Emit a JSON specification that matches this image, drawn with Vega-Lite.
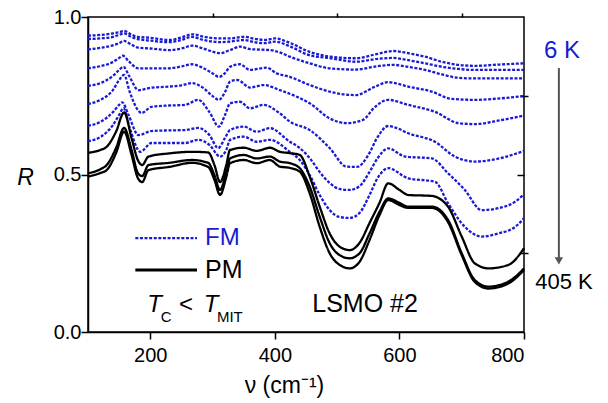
{
"$schema": "https://vega.github.io/schema/vega-lite/v6.json",
"width": 436, "height": 315,
"autosize": {"type": "none"},
"padding": {"left": 88, "top": 17, "right": 84, "bottom": 71},
"background": "white",
"config": {
  "view": {"stroke": "#000", "strokeWidth": 1.5},
  "font": "Liberation Sans",
  "axis": {"grid": false, "domainColor": "#000", "tickColor": "#000", "labelColor": "#000", "titleColor": "#000",
           "domainWidth": 1.5, "tickWidth": 1.5, "labelFont": "Liberation Sans", "titleFont": "Liberation Sans",
           "labelFontSize": 20, "titleFontWeight": "normal"}
},
"datasets": {
"curves": [
{"s":"FM1","t":"FM","x":100,"y":0.941},{"s":"FM1","t":"FM","x":120,"y":0.943},{"s":"FM1","t":"FM","x":140,"y":0.948},{"s":"FM1","t":"FM","x":150,"y":0.952},{"s":"FM1","t":"FM","x":158,"y":0.956},{"s":"FM1","t":"FM","x":168,"y":0.946},{"s":"FM1","t":"FM","x":180,"y":0.937},{"s":"FM1","t":"FM","x":200,"y":0.934},{"s":"FM1","t":"FM","x":230,"y":0.927},{"s":"FM1","t":"FM","x":250,"y":0.935},{"s":"FM1","t":"FM","x":267,"y":0.945},{"s":"FM1","t":"FM","x":285,"y":0.938},{"s":"FM1","t":"FM","x":300,"y":0.933},{"s":"FM1","t":"FM","x":312,"y":0.932},{"s":"FM1","t":"FM","x":328,"y":0.932},{"s":"FM1","t":"FM","x":350,"y":0.937},{"s":"FM1","t":"FM","x":370,"y":0.930},{"s":"FM1","t":"FM","x":385,"y":0.927},{"s":"FM1","t":"FM","x":400,"y":0.932},{"s":"FM1","t":"FM","x":425,"y":0.917},{"s":"FM1","t":"FM","x":455,"y":0.890},{"s":"FM1","t":"FM","x":490,"y":0.874},{"s":"FM1","t":"FM","x":530,"y":0.869},{"s":"FM1","t":"FM","x":565,"y":0.883},{"s":"FM1","t":"FM","x":590,"y":0.892},{"s":"FM1","t":"FM","x":614,"y":0.885},{"s":"FM1","t":"FM","x":641,"y":0.874},{"s":"FM1","t":"FM","x":668,"y":0.858},{"s":"FM1","t":"FM","x":695,"y":0.848},{"s":"FM1","t":"FM","x":721,"y":0.845},{"s":"FM1","t":"FM","x":760,"y":0.849},{"s":"FM1","t":"FM","x":800,"y":0.853},
{"s":"FM2","t":"FM","x":100,"y":0.930},{"s":"FM2","t":"FM","x":120,"y":0.932},{"s":"FM2","t":"FM","x":140,"y":0.937},{"s":"FM2","t":"FM","x":150,"y":0.943},{"s":"FM2","t":"FM","x":158,"y":0.948},{"s":"FM2","t":"FM","x":168,"y":0.938},{"s":"FM2","t":"FM","x":180,"y":0.930},{"s":"FM2","t":"FM","x":200,"y":0.925},{"s":"FM2","t":"FM","x":230,"y":0.920},{"s":"FM2","t":"FM","x":250,"y":0.927},{"s":"FM2","t":"FM","x":267,"y":0.937},{"s":"FM2","t":"FM","x":285,"y":0.927},{"s":"FM2","t":"FM","x":300,"y":0.922},{"s":"FM2","t":"FM","x":312,"y":0.920},{"s":"FM2","t":"FM","x":328,"y":0.922},{"s":"FM2","t":"FM","x":350,"y":0.927},{"s":"FM2","t":"FM","x":370,"y":0.919},{"s":"FM2","t":"FM","x":385,"y":0.917},{"s":"FM2","t":"FM","x":400,"y":0.922},{"s":"FM2","t":"FM","x":425,"y":0.906},{"s":"FM2","t":"FM","x":455,"y":0.879},{"s":"FM2","t":"FM","x":490,"y":0.869},{"s":"FM2","t":"FM","x":530,"y":0.858},{"s":"FM2","t":"FM","x":565,"y":0.867},{"s":"FM2","t":"FM","x":590,"y":0.870},{"s":"FM2","t":"FM","x":614,"y":0.863},{"s":"FM2","t":"FM","x":641,"y":0.853},{"s":"FM2","t":"FM","x":668,"y":0.842},{"s":"FM2","t":"FM","x":695,"y":0.835},{"s":"FM2","t":"FM","x":721,"y":0.832},{"s":"FM2","t":"FM","x":760,"y":0.832},{"s":"FM2","t":"FM","x":800,"y":0.832},
{"s":"FM3","t":"FM","x":100,"y":0.897},{"s":"FM3","t":"FM","x":120,"y":0.902},{"s":"FM3","t":"FM","x":140,"y":0.910},{"s":"FM3","t":"FM","x":150,"y":0.917},{"s":"FM3","t":"FM","x":158,"y":0.924},{"s":"FM3","t":"FM","x":168,"y":0.914},{"s":"FM3","t":"FM","x":180,"y":0.903},{"s":"FM3","t":"FM","x":200,"y":0.900},{"s":"FM3","t":"FM","x":230,"y":0.895},{"s":"FM3","t":"FM","x":250,"y":0.900},{"s":"FM3","t":"FM","x":267,"y":0.909},{"s":"FM3","t":"FM","x":285,"y":0.900},{"s":"FM3","t":"FM","x":300,"y":0.890},{"s":"FM3","t":"FM","x":312,"y":0.885},{"s":"FM3","t":"FM","x":328,"y":0.895},{"s":"FM3","t":"FM","x":344,"y":0.906},{"s":"FM3","t":"FM","x":360,"y":0.898},{"s":"FM3","t":"FM","x":392,"y":0.895},{"s":"FM3","t":"FM","x":410,"y":0.886},{"s":"FM3","t":"FM","x":424,"y":0.874},{"s":"FM3","t":"FM","x":456,"y":0.853},{"s":"FM3","t":"FM","x":488,"y":0.837},{"s":"FM3","t":"FM","x":530,"y":0.833},{"s":"FM3","t":"FM","x":565,"y":0.844},{"s":"FM3","t":"FM","x":590,"y":0.848},{"s":"FM3","t":"FM","x":614,"y":0.842},{"s":"FM3","t":"FM","x":641,"y":0.832},{"s":"FM3","t":"FM","x":668,"y":0.818},{"s":"FM3","t":"FM","x":695,"y":0.807},{"s":"FM3","t":"FM","x":721,"y":0.805},{"s":"FM3","t":"FM","x":760,"y":0.805},{"s":"FM3","t":"FM","x":800,"y":0.805},
{"s":"FM4","t":"FM","x":100,"y":0.837},{"s":"FM4","t":"FM","x":120,"y":0.844},{"s":"FM4","t":"FM","x":140,"y":0.857},{"s":"FM4","t":"FM","x":150,"y":0.870},{"s":"FM4","t":"FM","x":156,"y":0.877},{"s":"FM4","t":"FM","x":165,"y":0.860},{"s":"FM4","t":"FM","x":181,"y":0.837},{"s":"FM4","t":"FM","x":200,"y":0.837},{"s":"FM4","t":"FM","x":229,"y":0.837},{"s":"FM4","t":"FM","x":250,"y":0.843},{"s":"FM4","t":"FM","x":267,"y":0.850},{"s":"FM4","t":"FM","x":285,"y":0.838},{"s":"FM4","t":"FM","x":300,"y":0.821},{"s":"FM4","t":"FM","x":310,"y":0.810},{"s":"FM4","t":"FM","x":320,"y":0.822},{"s":"FM4","t":"FM","x":328,"y":0.842},{"s":"FM4","t":"FM","x":344,"y":0.850},{"s":"FM4","t":"FM","x":360,"y":0.832},{"s":"FM4","t":"FM","x":387,"y":0.839},{"s":"FM4","t":"FM","x":403,"y":0.821},{"s":"FM4","t":"FM","x":424,"y":0.810},{"s":"FM4","t":"FM","x":456,"y":0.784},{"s":"FM4","t":"FM","x":488,"y":0.763},{"s":"FM4","t":"FM","x":530,"y":0.752},{"s":"FM4","t":"FM","x":561,"y":0.779},{"s":"FM4","t":"FM","x":582,"y":0.793},{"s":"FM4","t":"FM","x":614,"y":0.779},{"s":"FM4","t":"FM","x":652,"y":0.763},{"s":"FM4","t":"FM","x":684,"y":0.740},{"s":"FM4","t":"FM","x":721,"y":0.737},{"s":"FM4","t":"FM","x":764,"y":0.742},{"s":"FM4","t":"FM","x":800,"y":0.749},
{"s":"FM5","t":"FM","x":100,"y":0.782},{"s":"FM5","t":"FM","x":120,"y":0.790},{"s":"FM5","t":"FM","x":140,"y":0.813},{"s":"FM5","t":"FM","x":150,"y":0.832},{"s":"FM5","t":"FM","x":157,"y":0.842},{"s":"FM5","t":"FM","x":166,"y":0.813},{"s":"FM5","t":"FM","x":181,"y":0.768},{"s":"FM5","t":"FM","x":200,"y":0.775},{"s":"FM5","t":"FM","x":229,"y":0.779},{"s":"FM5","t":"FM","x":250,"y":0.783},{"s":"FM5","t":"FM","x":267,"y":0.790},{"s":"FM5","t":"FM","x":285,"y":0.775},{"s":"FM5","t":"FM","x":300,"y":0.749},{"s":"FM5","t":"FM","x":310,"y":0.737},{"s":"FM5","t":"FM","x":320,"y":0.762},{"s":"FM5","t":"FM","x":328,"y":0.795},{"s":"FM5","t":"FM","x":340,"y":0.800},{"s":"FM5","t":"FM","x":360,"y":0.776},{"s":"FM5","t":"FM","x":382,"y":0.784},{"s":"FM5","t":"FM","x":408,"y":0.768},{"s":"FM5","t":"FM","x":435,"y":0.747},{"s":"FM5","t":"FM","x":456,"y":0.726},{"s":"FM5","t":"FM","x":488,"y":0.678},{"s":"FM5","t":"FM","x":515,"y":0.663},{"s":"FM5","t":"FM","x":541,"y":0.673},{"s":"FM5","t":"FM","x":561,"y":0.715},{"s":"FM5","t":"FM","x":582,"y":0.737},{"s":"FM5","t":"FM","x":614,"y":0.721},{"s":"FM5","t":"FM","x":657,"y":0.699},{"s":"FM5","t":"FM","x":695,"y":0.663},{"s":"FM5","t":"FM","x":721,"y":0.660},{"s":"FM5","t":"FM","x":764,"y":0.673},{"s":"FM5","t":"FM","x":800,"y":0.687},
{"s":"FM6","t":"FM","x":100,"y":0.724},{"s":"FM6","t":"FM","x":120,"y":0.737},{"s":"FM6","t":"FM","x":140,"y":0.768},{"s":"FM6","t":"FM","x":150,"y":0.800},{"s":"FM6","t":"FM","x":158,"y":0.816},{"s":"FM6","t":"FM","x":167,"y":0.762},{"s":"FM6","t":"FM","x":180,"y":0.705},{"s":"FM6","t":"FM","x":186,"y":0.695},{"s":"FM6","t":"FM","x":202,"y":0.715},{"s":"FM6","t":"FM","x":230,"y":0.719},{"s":"FM6","t":"FM","x":256,"y":0.721},{"s":"FM6","t":"FM","x":277,"y":0.737},{"s":"FM6","t":"FM","x":295,"y":0.698},{"s":"FM6","t":"FM","x":310,"y":0.652},{"s":"FM6","t":"FM","x":320,"y":0.689},{"s":"FM6","t":"FM","x":328,"y":0.726},{"s":"FM6","t":"FM","x":344,"y":0.731},{"s":"FM6","t":"FM","x":360,"y":0.710},{"s":"FM6","t":"FM","x":382,"y":0.721},{"s":"FM6","t":"FM","x":408,"y":0.694},{"s":"FM6","t":"FM","x":424,"y":0.668},{"s":"FM6","t":"FM","x":456,"y":0.641},{"s":"FM6","t":"FM","x":488,"y":0.584},{"s":"FM6","t":"FM","x":515,"y":0.525},{"s":"FM6","t":"FM","x":532,"y":0.524},{"s":"FM6","t":"FM","x":550,"y":0.562},{"s":"FM6","t":"FM","x":565,"y":0.619},{"s":"FM6","t":"FM","x":582,"y":0.654},{"s":"FM6","t":"FM","x":595,"y":0.648},{"s":"FM6","t":"FM","x":614,"y":0.631},{"s":"FM6","t":"FM","x":657,"y":0.604},{"s":"FM6","t":"FM","x":689,"y":0.557},{"s":"FM6","t":"FM","x":721,"y":0.541},{"s":"FM6","t":"FM","x":760,"y":0.551},{"s":"FM6","t":"FM","x":800,"y":0.575},
{"s":"FM7","t":"FM","x":100,"y":0.655},{"s":"FM7","t":"FM","x":120,"y":0.667},{"s":"FM7","t":"FM","x":140,"y":0.698},{"s":"FM7","t":"FM","x":150,"y":0.721},{"s":"FM7","t":"FM","x":155,"y":0.729},{"s":"FM7","t":"FM","x":165,"y":0.689},{"s":"FM7","t":"FM","x":181,"y":0.625},{"s":"FM7","t":"FM","x":202,"y":0.638},{"s":"FM7","t":"FM","x":230,"y":0.640},{"s":"FM7","t":"FM","x":256,"y":0.641},{"s":"FM7","t":"FM","x":277,"y":0.648},{"s":"FM7","t":"FM","x":295,"y":0.625},{"s":"FM7","t":"FM","x":309,"y":0.584},{"s":"FM7","t":"FM","x":320,"y":0.616},{"s":"FM7","t":"FM","x":328,"y":0.641},{"s":"FM7","t":"FM","x":350,"y":0.652},{"s":"FM7","t":"FM","x":371,"y":0.636},{"s":"FM7","t":"FM","x":392,"y":0.647},{"s":"FM7","t":"FM","x":424,"y":0.604},{"s":"FM7","t":"FM","x":440,"y":0.584},{"s":"FM7","t":"FM","x":456,"y":0.552},{"s":"FM7","t":"FM","x":472,"y":0.508},{"s":"FM7","t":"FM","x":488,"y":0.473},{"s":"FM7","t":"FM","x":504,"y":0.454},{"s":"FM7","t":"FM","x":520,"y":0.451},{"s":"FM7","t":"FM","x":536,"y":0.463},{"s":"FM7","t":"FM","x":552,"y":0.508},{"s":"FM7","t":"FM","x":565,"y":0.552},{"s":"FM7","t":"FM","x":582,"y":0.583},{"s":"FM7","t":"FM","x":609,"y":0.557},{"s":"FM7","t":"FM","x":652,"y":0.551},{"s":"FM7","t":"FM","x":678,"y":0.504},{"s":"FM7","t":"FM","x":705,"y":0.451},{"s":"FM7","t":"FM","x":732,"y":0.387},{"s":"FM7","t":"FM","x":759,"y":0.393},{"s":"FM7","t":"FM","x":786,"y":0.414},{"s":"FM7","t":"FM","x":800,"y":0.437},
{"s":"FM8","t":"FM","x":100,"y":0.606},{"s":"FM8","t":"FM","x":120,"y":0.619},{"s":"FM8","t":"FM","x":140,"y":0.657},{"s":"FM8","t":"FM","x":150,"y":0.689},{"s":"FM8","t":"FM","x":157,"y":0.711},{"s":"FM8","t":"FM","x":167,"y":0.648},{"s":"FM8","t":"FM","x":184,"y":0.572},{"s":"FM8","t":"FM","x":202,"y":0.600},{"s":"FM8","t":"FM","x":230,"y":0.600},{"s":"FM8","t":"FM","x":256,"y":0.600},{"s":"FM8","t":"FM","x":277,"y":0.610},{"s":"FM8","t":"FM","x":295,"y":0.594},{"s":"FM8","t":"FM","x":312,"y":0.557},{"s":"FM8","t":"FM","x":322,"y":0.578},{"s":"FM8","t":"FM","x":328,"y":0.610},{"s":"FM8","t":"FM","x":350,"y":0.620},{"s":"FM8","t":"FM","x":371,"y":0.604},{"s":"FM8","t":"FM","x":392,"y":0.610},{"s":"FM8","t":"FM","x":424,"y":0.572},{"s":"FM8","t":"FM","x":440,"y":0.546},{"s":"FM8","t":"FM","x":456,"y":0.498},{"s":"FM8","t":"FM","x":472,"y":0.435},{"s":"FM8","t":"FM","x":488,"y":0.387},{"s":"FM8","t":"FM","x":504,"y":0.365},{"s":"FM8","t":"FM","x":520,"y":0.362},{"s":"FM8","t":"FM","x":536,"y":0.378},{"s":"FM8","t":"FM","x":552,"y":0.435},{"s":"FM8","t":"FM","x":565,"y":0.489},{"s":"FM8","t":"FM","x":582,"y":0.520},{"s":"FM8","t":"FM","x":614,"y":0.488},{"s":"FM8","t":"FM","x":657,"y":0.477},{"s":"FM8","t":"FM","x":678,"y":0.409},{"s":"FM8","t":"FM","x":705,"y":0.334},{"s":"FM8","t":"FM","x":732,"y":0.303},{"s":"FM8","t":"FM","x":759,"y":0.313},{"s":"FM8","t":"FM","x":786,"y":0.334},{"s":"FM8","t":"FM","x":800,"y":0.361},
{"s":"PM1","t":"PM","x":100,"y":0.569},{"s":"PM1","t":"PM","x":120,"y":0.578},{"s":"PM1","t":"PM","x":130,"y":0.588},{"s":"PM1","t":"PM","x":145,"y":0.636},{"s":"PM1","t":"PM","x":158,"y":0.697},{"s":"PM1","t":"PM","x":170,"y":0.615},{"s":"PM1","t":"PM","x":180,"y":0.546},{"s":"PM1","t":"PM","x":187,"y":0.530},{"s":"PM1","t":"PM","x":197,"y":0.557},{"s":"PM1","t":"PM","x":230,"y":0.567},{"s":"PM1","t":"PM","x":267,"y":0.572},{"s":"PM1","t":"PM","x":293,"y":0.570},{"s":"PM1","t":"PM","x":303,"y":0.530},{"s":"PM1","t":"PM","x":312,"y":0.476},{"s":"PM1","t":"PM","x":322,"y":0.530},{"s":"PM1","t":"PM","x":328,"y":0.578},{"s":"PM1","t":"PM","x":350,"y":0.585},{"s":"PM1","t":"PM","x":371,"y":0.575},{"s":"PM1","t":"PM","x":392,"y":0.585},{"s":"PM1","t":"PM","x":408,"y":0.572},{"s":"PM1","t":"PM","x":424,"y":0.568},{"s":"PM1","t":"PM","x":440,"y":0.562},{"s":"PM1","t":"PM","x":456,"y":0.493},{"s":"PM1","t":"PM","x":472,"y":0.398},{"s":"PM1","t":"PM","x":488,"y":0.313},{"s":"PM1","t":"PM","x":504,"y":0.271},{"s":"PM1","t":"PM","x":520,"y":0.260},{"s":"PM1","t":"PM","x":536,"y":0.283},{"s":"PM1","t":"PM","x":552,"y":0.346},{"s":"PM1","t":"PM","x":568,"y":0.410},{"s":"PM1","t":"PM","x":582,"y":0.472},{"s":"PM1","t":"PM","x":600,"y":0.451},{"s":"PM1","t":"PM","x":614,"y":0.435},{"s":"PM1","t":"PM","x":652,"y":0.432},{"s":"PM1","t":"PM","x":678,"y":0.398},{"s":"PM1","t":"PM","x":700,"y":0.303},{"s":"PM1","t":"PM","x":721,"y":0.218},{"s":"PM1","t":"PM","x":743,"y":0.202},{"s":"PM1","t":"PM","x":775,"y":0.213},{"s":"PM1","t":"PM","x":800,"y":0.266},
{"s":"PM2","t":"PM","x":100,"y":0.504},{"s":"PM2","t":"PM","x":120,"y":0.517},{"s":"PM2","t":"PM","x":130,"y":0.530},{"s":"PM2","t":"PM","x":145,"y":0.584},{"s":"PM2","t":"PM","x":158,"y":0.648},{"s":"PM2","t":"PM","x":170,"y":0.578},{"s":"PM2","t":"PM","x":180,"y":0.505},{"s":"PM2","t":"PM","x":187,"y":0.495},{"s":"PM2","t":"PM","x":197,"y":0.530},{"s":"PM2","t":"PM","x":230,"y":0.537},{"s":"PM2","t":"PM","x":267,"y":0.546},{"s":"PM2","t":"PM","x":293,"y":0.537},{"s":"PM2","t":"PM","x":303,"y":0.498},{"s":"PM2","t":"PM","x":312,"y":0.451},{"s":"PM2","t":"PM","x":322,"y":0.508},{"s":"PM2","t":"PM","x":328,"y":0.551},{"s":"PM2","t":"PM","x":350,"y":0.562},{"s":"PM2","t":"PM","x":371,"y":0.551},{"s":"PM2","t":"PM","x":392,"y":0.557},{"s":"PM2","t":"PM","x":408,"y":0.541},{"s":"PM2","t":"PM","x":424,"y":0.536},{"s":"PM2","t":"PM","x":440,"y":0.520},{"s":"PM2","t":"PM","x":456,"y":0.461},{"s":"PM2","t":"PM","x":472,"y":0.366},{"s":"PM2","t":"PM","x":488,"y":0.282},{"s":"PM2","t":"PM","x":504,"y":0.244},{"s":"PM2","t":"PM","x":520,"y":0.234},{"s":"PM2","t":"PM","x":536,"y":0.250},{"s":"PM2","t":"PM","x":552,"y":0.313},{"s":"PM2","t":"PM","x":568,"y":0.382},{"s":"PM2","t":"PM","x":582,"y":0.424},{"s":"PM2","t":"PM","x":600,"y":0.410},{"s":"PM2","t":"PM","x":614,"y":0.398},{"s":"PM2","t":"PM","x":652,"y":0.398},{"s":"PM2","t":"PM","x":678,"y":0.356},{"s":"PM2","t":"PM","x":700,"y":0.250},{"s":"PM2","t":"PM","x":721,"y":0.165},{"s":"PM2","t":"PM","x":743,"y":0.144},{"s":"PM2","t":"PM","x":775,"y":0.160},{"s":"PM2","t":"PM","x":800,"y":0.202},
{"s":"PM3","t":"PM","x":100,"y":0.493},{"s":"PM3","t":"PM","x":120,"y":0.505},{"s":"PM3","t":"PM","x":130,"y":0.514},{"s":"PM3","t":"PM","x":145,"y":0.568},{"s":"PM3","t":"PM","x":158,"y":0.636},{"s":"PM3","t":"PM","x":170,"y":0.562},{"s":"PM3","t":"PM","x":180,"y":0.489},{"s":"PM3","t":"PM","x":187,"y":0.476},{"s":"PM3","t":"PM","x":197,"y":0.514},{"s":"PM3","t":"PM","x":230,"y":0.524},{"s":"PM3","t":"PM","x":267,"y":0.537},{"s":"PM3","t":"PM","x":293,"y":0.524},{"s":"PM3","t":"PM","x":303,"y":0.483},{"s":"PM3","t":"PM","x":312,"y":0.435},{"s":"PM3","t":"PM","x":322,"y":0.492},{"s":"PM3","t":"PM","x":328,"y":0.536},{"s":"PM3","t":"PM","x":350,"y":0.546},{"s":"PM3","t":"PM","x":371,"y":0.536},{"s":"PM3","t":"PM","x":392,"y":0.546},{"s":"PM3","t":"PM","x":408,"y":0.525},{"s":"PM3","t":"PM","x":424,"y":0.521},{"s":"PM3","t":"PM","x":440,"y":0.509},{"s":"PM3","t":"PM","x":456,"y":0.440},{"s":"PM3","t":"PM","x":472,"y":0.334},{"s":"PM3","t":"PM","x":488,"y":0.250},{"s":"PM3","t":"PM","x":504,"y":0.213},{"s":"PM3","t":"PM","x":520,"y":0.202},{"s":"PM3","t":"PM","x":536,"y":0.223},{"s":"PM3","t":"PM","x":552,"y":0.292},{"s":"PM3","t":"PM","x":568,"y":0.371},{"s":"PM3","t":"PM","x":582,"y":0.419},{"s":"PM3","t":"PM","x":600,"y":0.403},{"s":"PM3","t":"PM","x":614,"y":0.394},{"s":"PM3","t":"PM","x":652,"y":0.394},{"s":"PM3","t":"PM","x":678,"y":0.349},{"s":"PM3","t":"PM","x":700,"y":0.244},{"s":"PM3","t":"PM","x":721,"y":0.159},{"s":"PM3","t":"PM","x":743,"y":0.138},{"s":"PM3","t":"PM","x":775,"y":0.154},{"s":"PM3","t":"PM","x":800,"y":0.197}
]
},
"resolve": {"axis": {"x": "independent", "y": "independent"}},
"layer": [
{
  "data": {"name": "curves"},
  "mark": {"type": "line", "interpolate": "monotone", "strokeWidth": 2.3},
  "encoding": {
    "x": {"field": "x", "type": "quantitative", "scale": {"domain": [100, 800], "nice": false, "zero": false},
          "axis": {"values": [200, 400, 600, 800], "tickSize": 7, "labelPadding": 6.5, "labelFontSize": 20,
                   "title": "ν (cm⁻¹)", "titleFontSize": 23, "titleX": 196, "titleY": 60, "titleAlign": "center", "titleBaseline": "alphabetic"}},
    "y": {"field": "y", "type": "quantitative", "scale": {"domain": [0, 1], "nice": false, "zero": false},
          "axis": {"values": [0, 0.5, 1], "format": ".1f", "tickSize": 7, "labelPadding": 0, "labelFontSize": 20,
                   "title": "R", "titleFontSize": 23, "titleFontStyle": "italic", "titleAngle": 0, "titleX": -63, "titleY": 160,
                   "titleAlign": "center", "titleBaseline": "middle"}},
    "detail": {"field": "s"},
    "color": {"field": "t", "type": "nominal", "scale": {"domain": ["FM", "PM"], "range": ["#1a1ad4", "#000000"]}, "legend": null},
    "strokeDash": {"field": "t", "type": "nominal", "scale": {"domain": ["FM", "PM"], "range": [[3, 1.6], [1, 0]]}, "legend": null}
  }
},
{
  "data": {"name": "curves"},
  "mark": {"type": "point", "opacity": 0},
  "encoding": {
    "x": {"field": "x", "type": "quantitative", "scale": {"domain": [100, 800], "nice": false, "zero": false},
          "axis": {"values": [300, 500, 700], "tickSize": 4, "labels": false, "domain": false, "title": null}},
    "y": {"field": "y", "type": "quantitative", "scale": {"domain": [0, 1], "nice": false, "zero": false},
          "axis": {"values": [0.25, 0.75], "tickSize": 4, "labels": false, "domain": false, "title": null}}
  }
},
{
  "data": {"name": "curves"},
  "mark": {"type": "point", "opacity": 0},
  "encoding": {
    "x": {"field": "x", "type": "quantitative", "scale": {"domain": [100, 800], "nice": false, "zero": false}, "axis": null},
    "y": {"field": "y", "type": "quantitative", "scale": {"domain": [0, 1], "nice": false, "zero": false},
          "axis": {"orient": "right", "values": [0.5], "tickSize": -7, "labels": false, "domain": false, "title": null}}
  }
},
{
  "data": {"name": "curves"},
  "mark": {"type": "point", "opacity": 0},
  "encoding": {
    "x": {"field": "x", "type": "quantitative", "scale": {"domain": [100, 800], "nice": false, "zero": false}, "axis": null},
    "y": {"field": "y", "type": "quantitative", "scale": {"domain": [0, 1], "nice": false, "zero": false},
          "axis": {"orient": "right", "values": [0.25, 0.75], "tickSize": -4, "labels": false, "domain": false, "title": null}}
  }
},
{
  "data": {"values": [{"x": 176, "x2": 275, "y": 0.298}]},
  "mark": {"type": "rule", "color": "#1a1ad4", "strokeWidth": 2.3, "strokeDash": [3, 1.6]},
  "encoding": {
    "x": {"field": "x", "type": "quantitative", "axis": null},
    "x2": {"field": "x2"},
    "y": {"field": "y", "type": "quantitative", "axis": null}
  }
},
{
  "data": {"values": [{"x": 176, "x2": 275, "y": 0.197}]},
  "mark": {"type": "rule", "color": "#000000", "strokeWidth": 3},
  "encoding": {
    "x": {"field": "x", "type": "quantitative", "axis": null},
    "x2": {"field": "x2"},
    "y": {"field": "y", "type": "quantitative", "axis": null}
  }
},
{
  "data": {"values": [{"label": "FM", "x": 288, "y": 0.298}, {"label": "6 K", "x": 832, "y": 0.892}]},
  "mark": {"type": "text", "color": "#1a1ad4", "fontSize": 24, "align": "left", "baseline": "middle", "font": "Liberation Sans"},
  "encoding": {
    "x": {"field": "x", "type": "quantitative", "axis": null},
    "y": {"field": "y", "type": "quantitative", "axis": null},
    "text": {"field": "label"}
  }
},
{
  "data": {"values": [{"label": "PM", "x": 288, "y": 0.197}]},
  "mark": {"type": "text", "color": "#000000", "fontSize": 25, "align": "left", "baseline": "middle", "font": "Liberation Sans"},
  "encoding": {
    "x": {"field": "x", "type": "quantitative", "axis": null},
    "y": {"field": "y", "type": "quantitative", "axis": null},
    "text": {"field": "label"}
  }
},
{
  "data": {"values": [{"label": "LSMO #2", "x": 460, "y": 0.064}]},
  "mark": {"type": "text", "color": "#000000", "fontSize": 25, "align": "left", "baseline": "alphabetic", "font": "Liberation Sans"},
  "encoding": {
    "x": {"field": "x", "type": "quantitative", "axis": null},
    "y": {"field": "y", "type": "quantitative", "axis": null},
    "text": {"field": "label"}
  }
},
{
  "data": {"values": [{"label": "405 K", "x": 818, "y": 0.159}]},
  "mark": {"type": "text", "color": "#000000", "fontSize": 22, "align": "left", "baseline": "middle", "font": "Liberation Sans"},
  "encoding": {
    "x": {"field": "x", "type": "quantitative", "axis": null},
    "y": {"field": "y", "type": "quantitative", "axis": null},
    "text": {"field": "label"}
  }
},
{
  "data": {"values": [{"label": "T", "x": 195, "y": 0.064}, {"label": "T", "x": 286, "y": 0.064}]},
  "mark": {"type": "text", "color": "#000000", "fontSize": 24, "fontStyle": "italic", "align": "left", "baseline": "alphabetic", "font": "Liberation Sans"},
  "encoding": {
    "x": {"field": "x", "type": "quantitative", "axis": null},
    "y": {"field": "y", "type": "quantitative", "axis": null},
    "text": {"field": "label"}
  }
},
{
  "data": {"values": [{"label": "<", "x": 246, "y": 0.064}]},
  "mark": {"type": "text", "color": "#000000", "fontSize": 24, "align": "left", "baseline": "alphabetic", "font": "Liberation Sans"},
  "encoding": {
    "x": {"field": "x", "type": "quantitative", "axis": null},
    "y": {"field": "y", "type": "quantitative", "axis": null},
    "text": {"field": "label"}
  }
},
{
  "data": {"values": [{"label": "C", "x": 217, "y": 0.032}, {"label": "MIT", "x": 307, "y": 0.032}]},
  "mark": {"type": "text", "color": "#000000", "fontSize": 15, "align": "left", "baseline": "alphabetic", "font": "Liberation Sans"},
  "encoding": {
    "x": {"field": "x", "type": "quantitative", "axis": null},
    "y": {"field": "y", "type": "quantitative", "axis": null},
    "text": {"field": "label"}
  }
},
{
  "data": {"values": [{"x": 856, "y": 0.838, "y2": 0.235}]},
  "mark": {"type": "rule", "color": "#555555", "strokeWidth": 2},
  "encoding": {
    "x": {"field": "x", "type": "quantitative", "axis": null},
    "y": {"field": "y", "type": "quantitative", "axis": null},
    "y2": {"field": "y2"}
  }
},
{
  "data": {"values": [{"x": 856, "y": 0.226}]},
  "mark": {"type": "point", "shape": "triangle-down", "filled": true, "color": "#555555", "size": 70, "opacity": 1},
  "encoding": {
    "x": {"field": "x", "type": "quantitative", "axis": null},
    "y": {"field": "y", "type": "quantitative", "axis": null}
  }
}
]
}
